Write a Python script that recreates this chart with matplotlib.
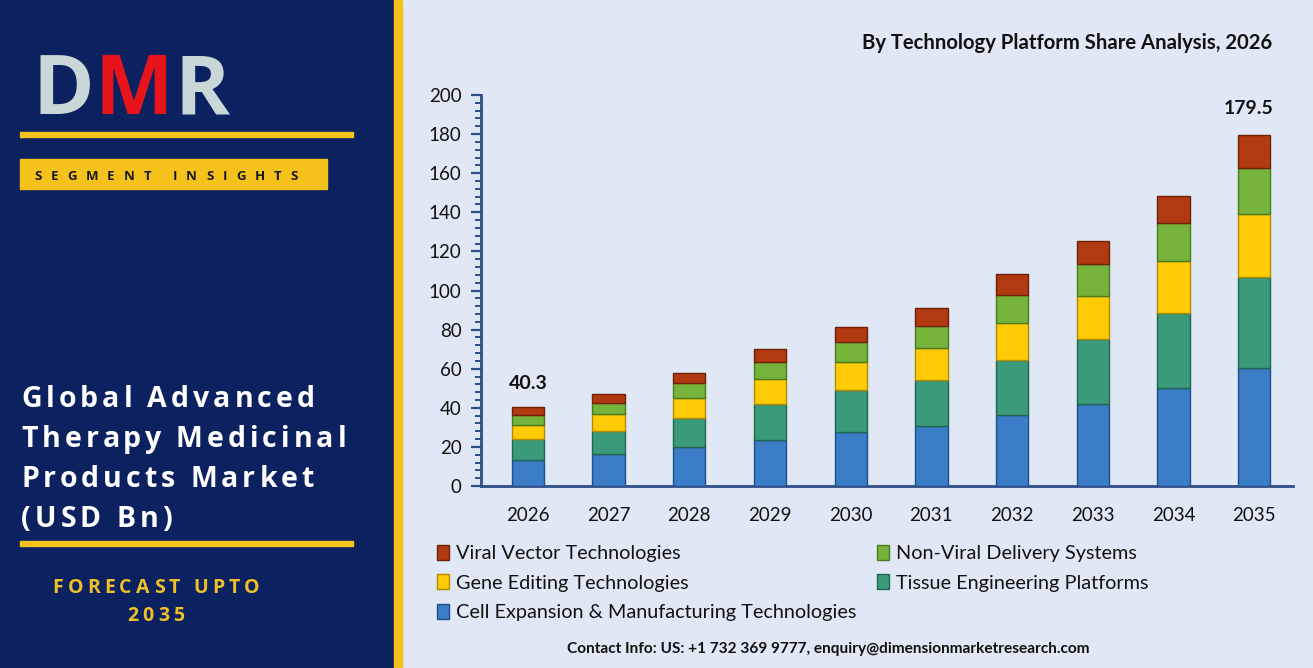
import matplotlib
matplotlib.use("Agg")
import matplotlib.pyplot as plt
from matplotlib.patches import Rectangle
from matplotlib.ticker import MultipleLocator
import numpy as np

years = ["2026", "2027", "2028", "2029", "2030", "2031", "2032", "2033", "2034", "2035"]
cell_expansion = [13.3, 16.2, 19.8, 23.5, 27.5, 30.7, 36.3, 41.9, 50.0, 60.2]
tissue_engineering = [10.7, 11.9, 14.8, 18.3, 21.6, 23.5, 28.2, 33.1, 38.7, 46.9]
gene_editing = [7.2, 8.6, 10.3, 12.8, 14.2, 16.4, 19.1, 22.2, 26.4, 32.0]
non_viral = [5.1, 5.9, 7.6, 9.0, 10.6, 11.4, 14.0, 16.4, 19.3, 23.4]
viral_vector = [4.0, 4.3, 5.1, 6.5, 7.6, 9.2, 10.7, 11.9, 14.1, 17.0]
series_names = ["Cell Expansion & Manufacturing Technologies", "Tissue Engineering Platforms",
                "Gene Editing Technologies", "Non-Viral Delivery Systems", "Viral Vector Technologies"]
label_first = "40.3"
label_last = "179.5"

colors = ["#3a7dc6", "#3b9a79", "#ffcb05", "#76b33a", "#b23a10"]
edges = ["#1f4f86", "#22654e", "#b08a00", "#4a7a20", "#6e2008"]

W, H = 1313, 668
fig = plt.figure(figsize=(W / 100, H / 100), dpi=100)
fig.patch.set_facecolor("#dfe8f4")

def fx(px):
    return px / W

def fy(py):
    return 1 - py / H

# left panel
navy = "#0c2160"
gold = "#f5c21b"
fig.patches.append(Rectangle((0, 0), fx(394), 1, transform=fig.transFigure, color=navy, zorder=0))
fig.patches.append(Rectangle((fx(394), 0), fx(8), 1, transform=fig.transFigure, color=gold, zorder=0))

renderer = fig.canvas.get_renderer()

def spaced_text(x_px, y_px, s, spacing_px, ha="left", **kw):
    from matplotlib.font_manager import FontProperties
    prop = FontProperties(family=kw.get("family", "Open Sans"), weight=kw.get("weight", "bold"),
                          size=kw.get("size", 12))
    def width(t):
        if not t:
            return 0.0
        w, h, d = renderer.get_text_width_height_descent(t, prop, ismath=False)
        return w
    total = width(s) + spacing_px * (len(s) - 1)
    if ha == "center":
        x0 = x_px - total / 2
    else:
        x0 = x_px
    for i, ch in enumerate(s):
        if ch == " ":
            continue
        xp = x0 + width(s[:i]) + spacing_px * i
        fig.text(fx(xp), fy(y_px), ch, fontproperties=prop, color=kw.get("color", "white"),
                 ha="left", va="baseline", zorder=3)

# DMR logo
logo_kw = dict(fontsize=60, fontweight="bold", family="Open Sans", va="baseline", ha="left", zorder=3)
fig.text(fx(32), fy(114), "D", color="#c9d7d8", **logo_kw)
fig.text(fx(95), fy(114), "M", color="#e8141b", **logo_kw)
fig.text(fx(174), fy(114), "R", color="#c9d7d8", **logo_kw)

# lines
fig.patches.append(Rectangle((fx(20), fy(137)), fx(333), 5 / H, transform=fig.transFigure, color=gold, zorder=2))
fig.patches.append(Rectangle((fx(20), fy(189)), fx(307), 30 / H, transform=fig.transFigure, color=gold, zorder=2))
spaced_text(34, 180, "SEGMENT INSIGHTS", 9.0, color="#1a1a1a", size=9.5, weight="bold")

title_lines = ["Global Advanced", "Therapy Medicinal", "Products Market", "(USD Bn)"]
for i, line in enumerate(title_lines):
    spaced_text(21, 407 + 40 * i, line, 4.0, color="white", size=20.5, weight="bold")

fig.patches.append(Rectangle((fx(20), fy(546)), fx(333), 5 / H, transform=fig.transFigure, color=gold, zorder=2))
spaced_text(156, 593, "FORECAST UPTO", 4.2, ha="center", color="#f0c02a", size=14, weight="bold")
spaced_text(156, 621, "2035", 4.2, ha="center", color="#f0c02a", size=14, weight="bold")

# chart
ax = fig.add_axes([fx(481), fy(486), fx(1293 - 481), (486 - 95) / H])
ax.set_facecolor("none")
x = np.arange(len(years))
data = [cell_expansion, tissue_engineering, gene_editing, non_viral, viral_vector]
bottom = np.zeros(len(years))
handles = []
for vals, name, c, e in zip(data, series_names, colors, edges):
    vals = np.array(vals)
    b = ax.bar(x, vals, width=0.4, bottom=bottom, color=c, edgecolor=e, linewidth=1.0, label=name, zorder=3)
    handles.append(b)
    bottom += vals

ax.set_xlim(-0.58, 9.48)
ax.set_ylim(0, 200)
ax.yaxis.set_major_locator(MultipleLocator(20))
ax.yaxis.set_minor_locator(MultipleLocator(4))
ax.set_xticks(x)
ax.set_xticklabels(years)
axis_col = "#2f4d87"
for s in ["top", "right"]:
    ax.spines[s].set_visible(False)
ax.spines["left"].set_color(axis_col)
ax.spines["left"].set_linewidth(2)
ax.spines["bottom"].set_color(axis_col)
ax.spines["bottom"].set_linewidth(2)
ax.tick_params(axis="y", which="major", direction="out", length=7, width=1.6, color=axis_col,
               labelsize=13.5, pad=7)
ax.tick_params(axis="y", which="minor", direction="out", length=4, width=1.4, color=axis_col)
ax.tick_params(axis="x", length=0, labelsize=13.5, pad=15)
for lab in ax.get_xticklabels() + ax.get_yticklabels():
    lab.set_family("Lato")
    lab.set_color("#111111")

totals = bottom
ax.text(x[0], totals[0] + 8, label_first, ha="center", va="bottom", fontsize=14, fontweight="bold",
        family="Lato", color="#111111")
ax.text(x[-1] - 0.07, totals[-1] + 9, label_last, ha="center", va="bottom", fontsize=14, fontweight="bold",
        family="Lato", color="#111111")

fig.text(fx(1272), fy(49), "By Technology Platform Share Analysis, 2026", ha="right", va="baseline",
         fontsize=14.6, fontweight="bold", family="Lato", color="#111111")

order = [4, 2, 0, 3, 1]
leg = fig.legend([handles[i] for i in order], [series_names[i] for i in order],
                 loc="upper left", bbox_to_anchor=(fx(419), fy(527)), ncol=2, frameon=False,
                 prop={"family": "Lato", "size": 14.3}, handlelength=0.6, handleheight=0.8,
                 handletextpad=0.35, columnspacing=1.05, labelspacing=0.6)
for t in leg.get_texts():
    t.set_color("#111111")

fig.text(fx(828), fy(653), "Contact Info: US: +1 732 369 9777, enquiry@dimensionmarketresearch.com",
         ha="center", va="baseline", fontsize=11.1, fontweight="bold", family="Lato", color="#111111")

fig.savefig("out.png", dpi=100, facecolor=fig.get_facecolor())
